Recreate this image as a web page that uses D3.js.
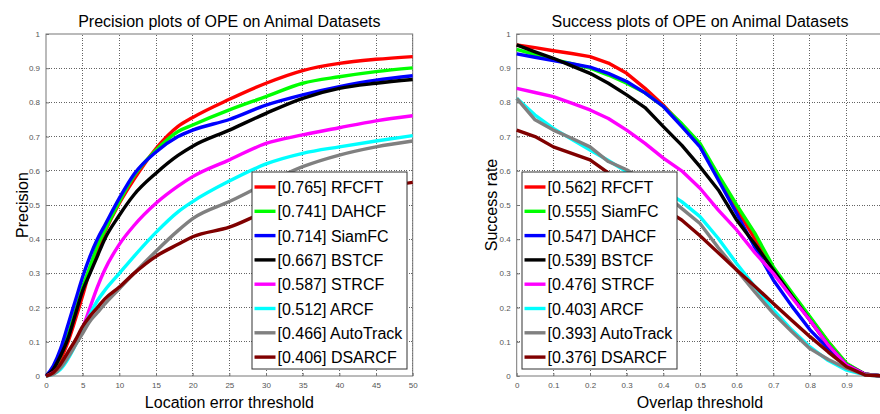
<!DOCTYPE html>
<html>
<head>
<meta charset="utf-8">
<script src="https://cdn.jsdelivr.net/npm/d3@7"></script>
<style>
    html, body { margin: 0; padding: 0; background: #fff; }
    svg { display: block; font-family: "Liberation Sans", Arial, sans-serif; }
</style>
</head>
<body>
<svg id="chart" width="880" height="414"></svg>
<script>
// --- precision plot data (location error threshold, pixels) ---
const precX = [0, 1, 2, 3, 4, 5, 6, 7, 8, 10, 12, 15, 18, 20, 25, 30, 35, 40, 45, 50];
const precRFCFT     = [0, 0.015, 0.05, 0.10, 0.165, 0.235, 0.31, 0.37, 0.42, 0.505, 0.575, 0.665, 0.73, 0.756, 0.809, 0.856, 0.893, 0.914, 0.926, 0.934];
const precDAHCF     = [0, 0.02, 0.06, 0.12, 0.19, 0.26, 0.32, 0.38, 0.425, 0.51, 0.585, 0.66, 0.715, 0.734, 0.778, 0.817, 0.856, 0.875, 0.89, 0.901];
const precSiamFC    = [0, 0.03, 0.08, 0.15, 0.22, 0.29, 0.35, 0.40, 0.44, 0.52, 0.59, 0.655, 0.70, 0.719, 0.75, 0.792, 0.822, 0.846, 0.865, 0.878];
const precBSTCF     = [0, 0.02, 0.06, 0.11, 0.18, 0.25, 0.30, 0.35, 0.40, 0.47, 0.53, 0.593, 0.645, 0.672, 0.719, 0.768, 0.812, 0.841, 0.856, 0.867];
const precSTRCF     = [0, 0.01, 0.03, 0.06, 0.095, 0.14, 0.20, 0.26, 0.31, 0.385, 0.44, 0.505, 0.555, 0.583, 0.632, 0.68, 0.705, 0.726, 0.746, 0.761];
const precARCF      = [0, 0.005, 0.02, 0.05, 0.09, 0.135, 0.18, 0.22, 0.25, 0.30, 0.35, 0.42, 0.48, 0.51, 0.57, 0.62, 0.651, 0.67, 0.687, 0.703];
const precAutoTrack = [0, 0.005, 0.025, 0.055, 0.09, 0.125, 0.16, 0.185, 0.21, 0.255, 0.30, 0.365, 0.425, 0.46, 0.51, 0.563, 0.612, 0.646, 0.67, 0.687];
const precDSARCF    = [0, 0.01, 0.035, 0.07, 0.105, 0.145, 0.175, 0.2, 0.225, 0.26, 0.30, 0.35, 0.385, 0.407, 0.435, 0.48, 0.51, 0.53, 0.55, 0.566];
const precLabels = ["[0.765] RFCFT", "[0.741] DAHCF", "[0.714] SiamFC", "[0.667] BSTCF",
                    "[0.587] STRCF", "[0.512] ARCF", "[0.466] AutoTrack", "[0.406] DSARCF"];

// --- success plot data (overlap threshold) ---
const succX = [0, 0.05, 0.1, 0.15, 0.2, 0.25, 0.3, 0.35, 0.4, 0.45, 0.5, 0.55, 0.6, 0.65, 0.7, 0.75, 0.8, 0.85, 0.9, 0.95, 1];
const succRFCFT     = [0.968, 0.96, 0.951, 0.943, 0.934, 0.915, 0.885, 0.841, 0.792, 0.735, 0.675, 0.58, 0.49, 0.40, 0.31, 0.235, 0.17, 0.10, 0.035, 0.005, 0];
const succSiamFC    = [0.955, 0.94, 0.926, 0.913, 0.90, 0.88, 0.856, 0.828, 0.788, 0.738, 0.68, 0.588, 0.50, 0.417, 0.319, 0.245, 0.173, 0.10, 0.037, 0.005, 0];
const succDAHCF     = [0.942, 0.932, 0.922, 0.913, 0.903, 0.885, 0.861, 0.828, 0.788, 0.73, 0.67, 0.573, 0.475, 0.375, 0.281, 0.205, 0.135, 0.08, 0.032, 0.005, 0];
const succBSTCF     = [0.968, 0.948, 0.929, 0.907, 0.885, 0.856, 0.822, 0.785, 0.729, 0.675, 0.612, 0.544, 0.456, 0.385, 0.31, 0.235, 0.163, 0.09, 0.032, 0.005, 0];
const succSTRCF     = [0.841, 0.829, 0.817, 0.798, 0.778, 0.753, 0.719, 0.68, 0.637, 0.60, 0.549, 0.485, 0.427, 0.36, 0.30, 0.23, 0.163, 0.09, 0.032, 0.005, 0];
const succARCF      = [0.812, 0.763, 0.724, 0.692, 0.661, 0.63, 0.597, 0.57, 0.544, 0.51, 0.466, 0.402, 0.329, 0.26, 0.193, 0.135, 0.085, 0.045, 0.017, 0.003, 0];
const succAutoTrack = [0.812, 0.749, 0.719, 0.695, 0.67, 0.627, 0.603, 0.57, 0.535, 0.49, 0.446, 0.375, 0.31, 0.245, 0.183, 0.13, 0.08, 0.048, 0.022, 0.003, 0];
const succDSARCF    = [0.719, 0.70, 0.67, 0.651, 0.632, 0.594, 0.56, 0.525, 0.49, 0.456, 0.41, 0.36, 0.31, 0.262, 0.212, 0.163, 0.115, 0.07, 0.027, 0.003, 0];
const succLabels = ["[0.562] RFCFT", "[0.555] SiamFC", "[0.547] DAHCF", "[0.539] BSTCF",
                    "[0.476] STRCF", "[0.403] ARCF", "[0.393] AutoTrack", "[0.376] DSARCF"];

const rankColors = ["#ff0000", "#00ff00", "#0000ff", "#000000", "#ff00ff", "#00ffff", "#808080", "#800000"];

const svg = d3.select("#chart");

function drawPanel(opts) {
    const x = d3.scaleLinear().domain(opts.xDomain).range([opts.left, opts.right]);
    const y = d3.scaleLinear().domain([0, 1]).range([376, 34]);
    const g = svg.append("g");

    // grid (dotted, matlab style)
    const grid = g.append("g").attr("stroke", "#222").attr("stroke-width", 0.7)
        .attr("stroke-dasharray", "1,1.5").attr("shape-rendering", "crispEdges");
    opts.xTicks.slice(1).forEach(t => {
        grid.append("line").attr("x1", x(t)).attr("x2", x(t)).attr("y1", y(0)).attr("y2", y(1));
    });
    d3.range(1, 10).map(i => i / 10).forEach(t => {
        grid.append("line").attr("x1", x(opts.xDomain[0])).attr("x2", x(opts.xDomain[1]))
            .attr("y1", y(t)).attr("y2", y(t));
    });

    // axes
    const xAxis = d3.axisBottom(x).tickValues(opts.xTicks).tickSizeInner(-3).tickSizeOuter(0)
        .tickPadding(6).tickFormat(d3.format("~g"));
    const yAxis = d3.axisLeft(y).tickValues(d3.range(0, 11).map(i => i / 10)).tickSizeInner(-3)
        .tickSizeOuter(0).tickPadding(6).tickFormat(d3.format("~g"));
    g.append("g").attr("transform", `translate(0,${y(0)})`).call(xAxis);
    g.append("g").attr("transform", `translate(${x(opts.xDomain[0])},0)`).call(yAxis);
    g.selectAll(".domain").remove();
    g.selectAll(".tick line").attr("stroke", "#777");
    g.selectAll(".tick text").attr("font-size", 8).attr("fill", "#555")
        .attr("font-family", "Liberation Sans, Arial, sans-serif");

    g.append("rect")
        .attr("x", x(opts.xDomain[0])).attr("y", y(1))
        .attr("width", x(opts.xDomain[1]) - x(opts.xDomain[0])).attr("height", y(0) - y(1))
        .attr("fill", "none").attr("stroke", "#777").attr("stroke-width", 1);

    // curves
    const line = d3.line().x(d => x(d[0])).y(d => y(d[1])).curve(opts.curve);
    opts.series.forEach((s, i) => {
        g.append("path")
            .datum(opts.xs.map((v, j) => [v, s[j]]))
            .attr("d", line)
            .attr("fill", "none")
            .attr("stroke", rankColors[i])
            .attr("stroke-width", 3.4)
            .attr("stroke-linejoin", "round");
    });

    // titles
    const cx = (opts.left + opts.right) / 2;
    g.append("text").attr("x", cx).attr("y", 27).attr("text-anchor", "middle")
        .attr("font-size", 16).text(opts.title);
    g.append("text").attr("x", cx).attr("y", 408).attr("text-anchor", "middle")
        .attr("font-size", 16).text(opts.xLabel);
    g.append("text").attr("transform", `translate(${opts.yLabelX},205) rotate(-90)`)
        .attr("text-anchor", "middle").attr("font-size", 16).text(opts.yLabel);

    // legend
    const lg = g.append("g").attr("transform", `translate(${opts.legendX},172)`);
    lg.append("rect").attr("width", 155).attr("height", 197)
        .attr("fill", "#fff").attr("stroke", "#333").attr("stroke-width", 1);
    opts.labels.forEach((lab, i) => {
        const yy = 15 + i * 24.3;
        lg.append("line").attr("x1", 2.5).attr("x2", 23.5).attr("y1", yy).attr("y2", yy)
            .attr("stroke", rankColors[i]).attr("stroke-width", 3.4);
        lg.append("text").attr("x", 25.5).attr("y", yy + 6).attr("font-size", 16).text(lab);
    });
}

drawPanel({
    xDomain: [0, 50], left: 46, right: 412.7,
    xTicks: d3.range(0, 51, 5),
    xs: precX,
    series: [precRFCFT, precDAHCF, precSiamFC, precBSTCF, precSTRCF, precARCF, precAutoTrack, precDSARCF],
    labels: precLabels,
    curve: d3.curveMonotoneX,
    title: "Precision plots of OPE on Animal Datasets",
    xLabel: "Location error threshold",
    yLabel: "Precision",
    yLabelX: 28,
    legendX: 252
});

// right panel runs past the window edge, so the last tick label (1) is not shown
drawPanel({
    xDomain: [0, 1], left: 516.7, right: 883.3,
    xTicks: d3.range(0, 10).map(i => i / 10),
    xs: succX,
    series: [succRFCFT, succSiamFC, succDAHCF, succBSTCF, succSTRCF, succARCF, succAutoTrack, succDSARCF],
    labels: succLabels,
    curve: d3.curveLinear,
    title: "Success plots of OPE on Animal Datasets",
    xLabel: "Overlap threshold",
    yLabel: "Success rate",
    yLabelX: 497,
    legendX: 522
});
</script>
</body>
</html>
